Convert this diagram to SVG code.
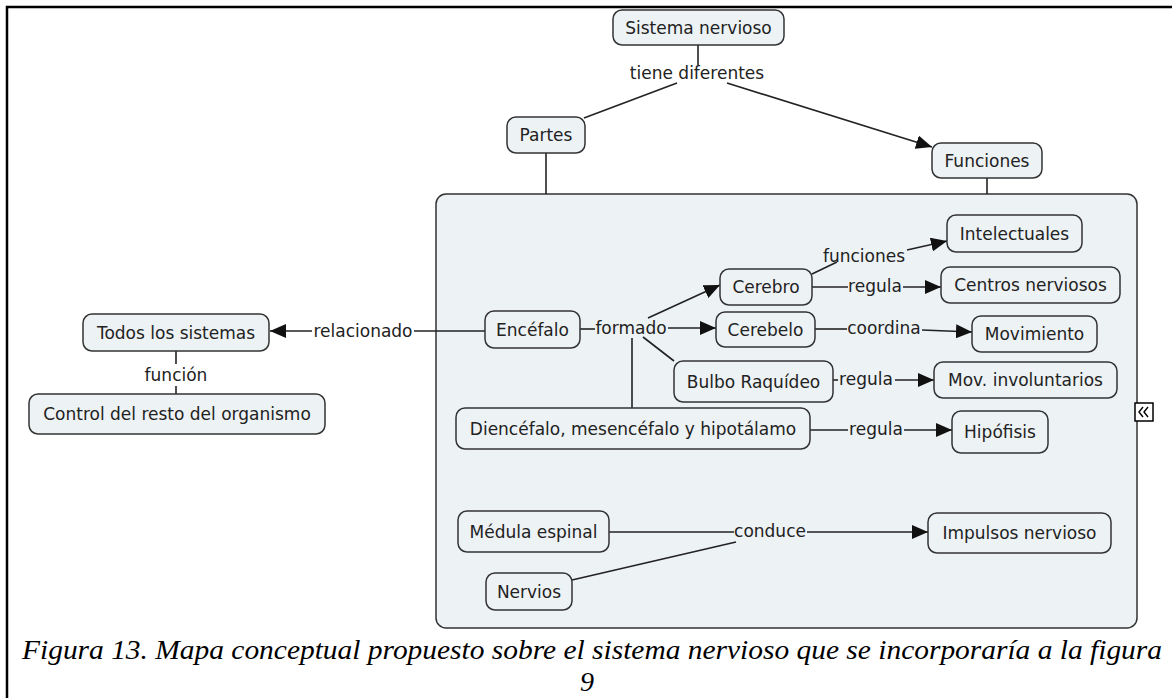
<svg xmlns="http://www.w3.org/2000/svg" width="1172" height="698" viewBox="0 0 1172 698">
  <style>
    .node rect { fill: #edf2f5; stroke: #333; stroke-width: 1.5; }
    .node text, .lbl { font-family: "DejaVu Sans", Verdana, sans-serif; font-size: 17px; fill: #222; text-anchor: middle; }
    .conn line, .conn polyline { stroke: #222; stroke-width: 1.6; fill: none; }
    .arrow { marker-end: url(#head); }
    .caption { font-family: "Liberation Serif", "Times New Roman", serif; font-style: italic; font-size: 28px; fill: #000; }
  </style>
  <defs>
    <marker id="head" markerUnits="userSpaceOnUse" markerWidth="16" markerHeight="14" refX="16" refY="7" orient="auto">
      <path d="M0,0 L16,7 L0,14 z" fill="#111"/>
    </marker>
  </defs>

  <rect width="1172" height="698" fill="#fff"/>
  <!-- page frame -->
  <path d="M7,698 V7 H1172" fill="none" stroke="#000" stroke-width="2.5"/>

  <!-- nested map container -->
  <g id="container">
    <rect x="436" y="194" width="701" height="434" rx="10" fill="#edf2f5" stroke="#333" stroke-width="1.5"/>
    <rect x="1135" y="403" width="18" height="18" fill="#fff" stroke="#000" stroke-width="1.5"/>
    <polyline points="1143,407 1139,412 1143,417" fill="none" stroke="#000" stroke-width="1.4"/>
    <polyline points="1148,407 1144,412 1148,417" fill="none" stroke="#000" stroke-width="1.4"/>
  </g>

  <!-- connectors and linking phrases -->
  <g id="connectors" class="conn">
    <line x1="698" y1="45" x2="698" y2="65"/>
    <text class="lbl" x="697" y="79">tiene diferentes</text>
    <line x1="677" y1="83" x2="584" y2="118"/>
    <line class="arrow" x1="727" y1="83" x2="932" y2="147"/>
    <line x1="546" y1="153" x2="546" y2="194"/>
    <line x1="987" y1="178" x2="987" y2="194"/>

    <line x1="485" y1="331" x2="414" y2="331"/>
    <text class="lbl" x="363" y="337">relacionado</text>
    <line class="arrow" x1="312" y1="331" x2="270" y2="331"/>

    <line x1="176" y1="351" x2="176" y2="364"/>
    <text class="lbl" x="176" y="381">función</text>
    <line x1="176" y1="386" x2="176" y2="394"/>

    <line x1="580" y1="329" x2="595" y2="329"/>
    <text class="lbl" x="631" y="334">formado</text>
    <line class="arrow" x1="648" y1="318" x2="720" y2="285"/>
    <line class="arrow" x1="668" y1="328" x2="716" y2="328"/>
    <line x1="643" y1="337" x2="674" y2="361"/>
    <line x1="632" y1="338" x2="632" y2="408"/>

    <line x1="812" y1="274" x2="837" y2="262"/>
    <text class="lbl" x="864" y="262">funciones</text>
    <line class="arrow" x1="907" y1="250" x2="947" y2="241"/>

    <line x1="812" y1="287" x2="848" y2="287"/>
    <text class="lbl" x="875" y="292">regula</text>
    <line class="arrow" x1="903" y1="287" x2="941" y2="287"/>

    <line x1="815" y1="329" x2="847" y2="329"/>
    <text class="lbl" x="884" y="334">coordina</text>
    <line class="arrow" x1="922" y1="330" x2="972" y2="332"/>

    <line x1="833" y1="380" x2="838" y2="380"/>
    <text class="lbl" x="866" y="385">regula</text>
    <line class="arrow" x1="895" y1="380" x2="934" y2="380"/>

    <line x1="810" y1="430" x2="848" y2="430"/>
    <text class="lbl" x="876" y="435">regula</text>
    <line class="arrow" x1="904" y1="430" x2="952" y2="430"/>

    <line x1="609" y1="532" x2="734" y2="532"/>
    <text class="lbl" x="770" y="537">conduce</text>
    <line class="arrow" x1="807" y1="532" x2="928" y2="532"/>
    <line x1="572" y1="580" x2="736" y2="542"/>
  </g>

  <!-- concepts -->
  <g id="sistema-nervioso" class="node"><rect x="613" y="10" width="171" height="35" rx="9"/><text x="698.5" y="33.5">Sistema nervioso</text></g>
  <g id="partes" class="node"><rect x="507" y="117" width="78" height="36" rx="9"/><text x="546" y="141">Partes</text></g>
  <g id="funciones" class="node"><rect x="932" y="143" width="110" height="35" rx="9"/><text x="987" y="166.5">Funciones</text></g>
  <g id="intelectuales" class="node"><rect x="947" y="215" width="135" height="37" rx="9"/><text x="1014.5" y="239.5">Intelectuales</text></g>
  <g id="cerebro" class="node"><rect x="720" y="269" width="92" height="36" rx="9"/><text x="766" y="293">Cerebro</text></g>
  <g id="centros-nerviosos" class="node"><rect x="941" y="267" width="179" height="36" rx="9"/><text x="1030.5" y="291">Centros nerviosos</text></g>
  <g id="encefalo" class="node"><rect x="485" y="311" width="95" height="37" rx="9"/><text x="532.5" y="335.5">Encéfalo</text></g>
  <g id="cerebelo" class="node"><rect x="716" y="312" width="99" height="35" rx="9"/><text x="765.5" y="335.5">Cerebelo</text></g>
  <g id="movimiento" class="node"><rect x="972" y="316" width="125" height="36" rx="9"/><text x="1034.5" y="340">Movimiento</text></g>
  <g id="todos-los-sistemas" class="node"><rect x="83" y="314" width="186" height="37" rx="9"/><text x="176" y="338.5">Todos los sistemas</text></g>
  <g id="control" class="node"><rect x="29" y="394" width="296" height="40" rx="9"/><text x="177" y="420">Control del resto del organismo</text></g>
  <g id="bulbo-raquideo" class="node"><rect x="674" y="361" width="159" height="41" rx="9"/><text x="753.5" y="387.5">Bulbo Raquídeo</text></g>
  <g id="mov-involuntarios" class="node"><rect x="934" y="362" width="183" height="36" rx="9"/><text x="1025.5" y="386">Mov. involuntarios</text></g>
  <g id="diencefalo" class="node"><rect x="456" y="408" width="354" height="41" rx="9"/><text x="633" y="434.5">Diencéfalo, mesencéfalo y hipotálamo</text></g>
  <g id="hipofisis" class="node"><rect x="952" y="411" width="96" height="42" rx="9"/><text x="1000" y="438">Hipófisis</text></g>
  <g id="medula-espinal" class="node"><rect x="458" y="511" width="151" height="41" rx="9"/><text x="533.5" y="537.5">Médula espinal</text></g>
  <g id="impulsos-nervioso" class="node"><rect x="928" y="513" width="183" height="40" rx="9"/><text x="1019.5" y="539">Impulsos nervioso</text></g>
  <g id="nervios" class="node"><rect x="486" y="573" width="86" height="37" rx="9"/><text x="529" y="597.5">Nervios</text></g>

  <!-- figure caption -->
  <text class="caption" x="22" y="659" textLength="1140" lengthAdjust="spacingAndGlyphs">Figura 13. Mapa conceptual propuesto sobre el sistema nervioso que se incorporaría a la figura</text>
  <text class="caption" x="587" y="691" text-anchor="middle">9</text>
</svg>
